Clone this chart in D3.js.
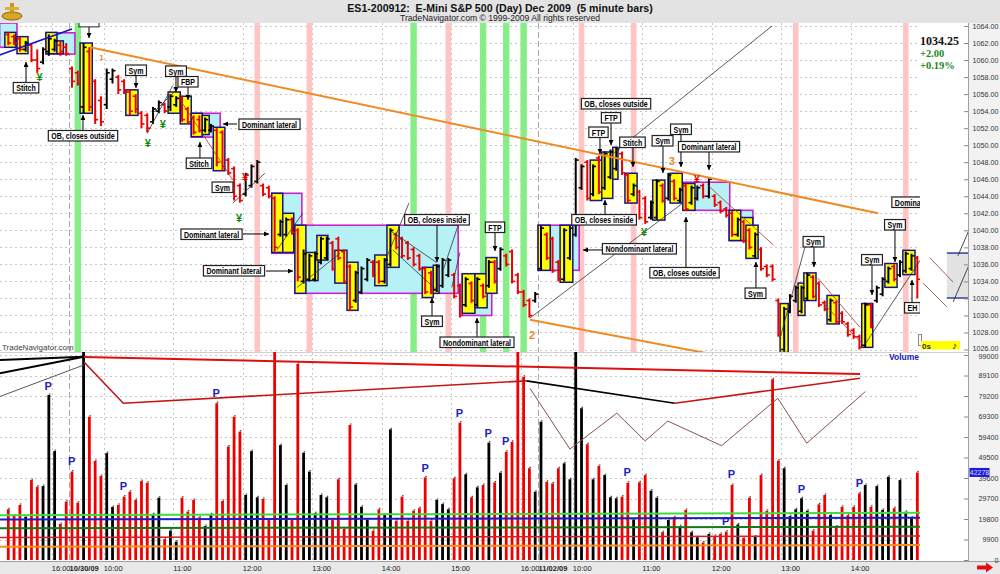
<!DOCTYPE html>
<html><head><meta charset="utf-8">
<script src="https://cdn.jsdelivr.net/npm/d3@7"></script>
<style>html,body{margin:0;padding:0;background:#fff;}svg{display:block;font-family:Arial,"Liberation Sans",sans-serif;}</style>
</head><body>
<script>
// ---------------- DATA ----------------
const barOpen = [1063,1062.75,1062.5,1061.25,1061.75,1060,1059.75,1061,1061.25,1061.75,1061.5,1059,1058.5,1054.5,1061,1057.5,1055.25,1054.75,1057.75,1058,1057.5,1056.25,1055.75,1053.75,1053.5,1052.75,1054,1054.75,1054.5,1054.75,1055.5,1054.25,1053.25,1053,1051.75,1051.75,1051.75,1051.5,1048.25,1047.25,1045.25,1044.25,1045.25,1045.75,1045.25,1045,1043.75,1039.5,1039.5,1041.25,1040,1034,1034.25,1034.25,1036.25,1036.75,1038.5,1039,1037.5,1035.75,1031.75,1032.75,1034.25,1036.25,1036.25,1034,1036,1039.5,1039,1038.5,1037.75,1037,1035.5,1035,1033,1033.5,1034.75,1034.75,1033.5,1031.25,1033.75,1031.25,1033.5,1033.5,1036.25,1035.5,1037,1037.5,1034.75,1032.75,1031.75,1031.75,1035.5,1039.5,1039,1036.25,1034.25,1036.75,1039.5,1045,1048,1044.25,1048.5,1045,1046.25,1047.25,1049,1046.5,1044.25,1044.5,1043.75,1041.5,1041.5,1045.25,1043.75,1045.75,1043.5,1045.25,1043.25,1043.75,1045.25,1044,1044,1043.25,1042.5,1042,1039.5,1041,1040,1037,1037.75,1035.75,1035.75,1031.75,1026,1030.5,1031.75,1030.5,1032,1034.5,1033.75,1031.5,1029.5,1031.5,1030.25,1029,1028.25,1027.5,1026.5,1031.25,1031.75,1032.5,1034,1035.75,1034.75,1035.25,1035.5,1036.75];
const barHigh = [1063.25,1063,1062.75,1062.25,1062,1061.25,1061.5,1063,1062.5,1062.25,1062,1059.25,1058.75,1062,1061.5,1057.75,1055.75,1059,1059,1058.25,1057.75,1056.5,1056,1054,1053.75,1054.5,1055.25,1055,1056,1055.75,1055.75,1054.5,1053.5,1053.5,1053.25,1052.5,1052,1051.75,1048.5,1047.5,1045.5,1046.75,1047.75,1048.25,1045.5,1045.25,1044,1041.25,1041.5,1041.5,1040.25,1037.75,1037.25,1037.5,1039.25,1039.25,1038.75,1039.25,1037.75,1036,1035.25,1035.75,1036.75,1036.5,1036.5,1036.75,1040.25,1039.75,1039.25,1038.75,1038,1037.25,1035.75,1035.25,1036,1036.75,1036.75,1035,1033.75,1034.5,1034,1034.5,1033.75,1036.5,1036.5,1038,1037.25,1037.75,1035,1033,1032,1032.75,1040.5,1039.75,1039.25,1036.5,1040.25,1040.5,1048.5,1047.75,1048.25,1047.75,1048.75,1049.25,1049.5,1049.75,1049.25,1046.75,1045.5,1044.75,1044,1043.5,1046,1045.5,1046.75,1046,1045,1045.5,1045.25,1045.25,1045.5,1046.25,1044.25,1043.5,1042.75,1042.25,1041.5,1041.25,1040.25,1039.75,1038,1036,1036,1032,1031,1032.5,1033.5,1033.5,1035,1034.75,1034,1031.75,1032,1031.75,1030.5,1029.25,1028.5,1027.75,1031.5,1031.5,1033.5,1034.5,1035.75,1036,1036.5,1037.5,1037.25,1037];
const barLow = [1061.75,1061.75,1061,1061,1059.75,1058.5,1059.5,1060.5,1061,1060.5,1060.5,1056.75,1057,1053.75,1054,1052.5,1052.25,1054.25,1057.25,1056,1056,1053.5,1053.75,1052,1051.5,1052.5,1053.75,1053.75,1054,1054.5,1052.75,1052.5,1051.25,1051.5,1051.5,1051.5,1047.5,1047,1046.5,1043.5,1043.25,1044,1045,1045.5,1044,1043.75,1037.5,1039.25,1039.25,1039.5,1034,1033.75,1034,1034,1036,1036.5,1035.25,1036.5,1033.75,1030.5,1031.5,1032.5,1034,1034.5,1033.75,1033.75,1035.75,1037.75,1036.75,1036.5,1035.75,1035.25,1032.5,1032.5,1032.75,1033.25,1034.5,1032,1029.75,1031,1031.5,1031,1032,1033.25,1033.75,1035.25,1035.75,1033.75,1032.5,1031,1029.75,1031.5,1035.25,1036.5,1035,1034,1034,1036.5,1039.25,1044.75,1043.5,1044,1044.25,1044.75,1046,1047,1046.5,1043.25,1044,1041.25,1040.75,1041.25,1041.25,1043.25,1043.5,1043.5,1043.25,1042.25,1043,1043.5,1043.75,1043.75,1042.75,1042,1041.5,1039.25,1039.25,1038.5,1037.75,1036.75,1035.25,1034.5,1034,1027.5,1025.75,1030.25,1031.5,1030.25,1031.75,1032,1031,1030.5,1029.25,1029,1029,1027.5,1027.25,1026,1026.25,1028.5,1031.5,1032.25,1033.75,1034,1034.5,1035,1035.25,1032];
const barClose = [1062,1062,1061.25,1062,1060,1059,1061.25,1062.5,1062.25,1061,1060.75,1057.5,1057.25,1061.5,1054.5,1053,1052.75,1058.5,1058.75,1056.5,1056.25,1054,1054.25,1052.5,1052,1054.25,1055,1054,1055.75,1055.5,1053,1052.75,1051.5,1051.75,1053,1052.25,1048,1047.5,1046.75,1044,1043.5,1046.5,1047.5,1048,1044.25,1044,1038,1041,1041.25,1039.75,1034.5,1037.25,1037,1037.25,1039,1039,1035.5,1036.75,1034,1031,1035,1035.5,1036.5,1034.75,1034,1036.5,1040,1038,1037,1036.75,1036,1035.5,1032.75,1032.75,1035.75,1036.5,1036.5,1032.25,1030,1034.25,1031.75,1034.25,1032.25,1036.25,1034,1037.75,1036,1034,1032.75,1031.25,1030,1032.5,1040.25,1036.75,1035.25,1034.25,1040,1040.25,1048.25,1047.5,1043.75,1047.5,1044.5,1049,1049.25,1049.5,1046.75,1043.5,1045.25,1041.5,1041,1043.25,1045.75,1043.5,1046.5,1043.75,1044.75,1042.5,1045,1045,1044,1046,1043,1042.25,1041.75,1039.5,1041.25,1038.75,1038,1039.5,1035.5,1034.75,1034.25,1027.75,1030.75,1032.25,1033.25,1033.25,1034.75,1032.25,1031.25,1030.75,1031.75,1029.25,1029.25,1027.75,1027.5,1026.25,1031.25,1028.75,1033.25,1034.25,1035.5,1034.25,1036.25,1037.25,1037,1034.25];
const volume = [24500,21300,26600,20900,38600,35400,35700,79700,52600,17400,28200,42700,27700,101000,69200,47800,40600,51600,25600,26600,30600,33000,29000,38100,37300,22100,30100,10100,14200,8900,30100,23400,29000,20600,16400,22100,75700,28500,54800,69200,62000,31400,52600,30300,29500,19300,101000,55500,36200,19300,94700,51800,42700,22600,31400,30300,19300,39000,15000,65200,36500,25700,19600,14100,24500,21700,63100,19000,30600,19000,23800,25000,39900,19000,29000,27000,24500,39500,66300,41400,30300,35100,36200,56700,37500,42200,52300,57100,101000,88500,44300,33000,66800,37800,37000,44300,46700,39000,101000,73300,55900,39000,45400,41000,30300,29800,30600,37300,19600,37500,41000,33500,30100,13500,19300,20600,16400,24200,13400,11000,8500,12600,11600,12600,13700,36200,17200,10800,30100,11300,41000,23800,87300,48000,44300,21200,24500,29800,23800,14200,26900,31400,21700,16100,25700,21700,25700,32200,36200,25700,35700,24200,40200,25000,38600,23300,20400,42278];

const priceTicks = [1026,1028,1030,1032,1034,1036,1038,1040,1042,1044,1046,1048,1050,1052,1054,1056,1058,1060,1062,1064];
const volTicks = [0,9900,19800,29700,39600,49500,59400,69300,79200,89100,99000];
const timeTickIdx = [7.5,16.5,28.5,40.5,52.5,64.5,76.5,88.5,97.5,109.5,121.5,133.5,145.5];
const timeTickLabels = ["16:00","10:00","11:00","12:00","13:00","14:00","15:00","16:00","10:00","11:00","12:00","13:00","14:00"];
const dayIdx = [10.5,91.5];
const dayLabels = ["10/30/09","11/02/09"];

const greenBands = [12,70,82,86,89];
const pinkBands = [43,52,76,99,108,136,155];

// [startIdx, endIdx, topPrice, bottomPrice]
const lateralBoxes = [[-1.5,1.5,1064.35,1061.5],[6.5,11.5,1063.2,1060.7],[31.6,36.6,1053.75,1050.95],[45.5,50.7,1044.35,1037.3],[49.5,77.7,1040.6,1032.6],[78.4,83.5,1034.9,1030],[91.5,98.6,1040.6,1035.3],[116.5,124.6,1045.65,1042.35],[124.5,128.6,1042.35,1038.8]];
const barBoxes = [[-0.6,1.3,1063.25,1061.5],[1.5,3.4,1062.75,1060.75],[6.5,8.4,1063.25,1060.75],[8.4,9.5,1062.25,1060.75],[12.4,14.5,1062,1053.75],[20.3,22.4,1056.5,1053.5],[27.6,29.7,1056.25,1053.75],[29.7,31.6,1055.75,1052.5],[31.6,33.5,1053.75,1051],[33.5,34.7,1053.5,1051.25],[35.4,37.4,1052.1,1047],[45.5,47.4,1044.35,1037.4],[47.4,49.3,1042,1037.4],[49.5,51.4,1040.6,1032.6],[51.4,53.5,1037.4,1034.1],[53.3,55.2,1039.4,1036.5],[56.4,58.5,1037.65,1033.8],[58.5,60.4,1036.25,1030.6],[63.3,65.4,1037.1,1033.5],[65.4,67.5,1040.6,1035.65],[71.5,73.4,1035.65,1032.1],[73.4,74.4,1035.9,1032.6],[78.4,80.6,1034.9,1030.25],[80.6,82.7,1034.9,1030.9],[82.5,84.4,1036.8,1032.6],[91.5,93.6,1040.6,1035.3],[95.3,97.5,1040.6,1033.9],[100.5,102.5,1048.25,1043.5],[102.5,104.4,1049.2,1043.75],[104.4,105.3,1049.75,1046],[106.5,108.6,1046.7,1043.2],[111.3,113.4,1045.9,1041.2],[114.3,116.4,1046.7,1043.2],[116.5,118.6,1045.5,1042.35],[124.5,126.5,1042.35,1038.8],[126.5,128.6,1041.5,1038.8],[127.4,129.5,1040.6,1036.7],[133.3,134.7,1031.4,1025.65],[136.4,137.6,1033.8,1030],[137.4,139.5,1035,1031.75],[141.4,143.5,1032.35,1029],[147.4,149.3,1031.4,1026.25],[151.4,153.5,1036.1,1033.3],[154.5,156.6,1037.65,1034.8]];

const labelText = ["Stitch","OB, closes outside","Sym","Sym","FBP","Dominant lateral","Stitch","Sym","Dominant lateral","Dominant lateral","OB, closes inside","FTP","Sym","Nondominant lateral","OB, closes inside","Nondominant lateral","OB, closes outside","FTP","FTP","Stitch","Sym","Sym","Dominant lateral","OB, closes outside","Sym","Sym","Sym","Sym","EH"];
const labelIdx = [3.06,12.9,22.06,28.96,31.04,45.11,32.94,37.0,35.1,38.98,74.04,84.06,73.18,80.95,102.9,109.0,104.96,104.1,101.93,107.8,113.0,116.18,121.02,116.79,129.05,139.07,149.17,153.14,156.16];
const labelPrice = [1056.72,1051.08,1058.77,1058.66,1057.42,1052.43,1047.85,1045.03,1039.51,1035.22,1041.21,1040.33,1029.29,1026.82,1041.21,1037.8,1054.84,1053.19,1051.49,1050.31,1050.49,1051.84,1049.79,1034.99,1032.58,1038.63,1036.51,1040.62,1030.87];
// arrows [fromIdx, fromPrice, toIdx, toPrice]
const arrows = [[3.06,1057.3,3.06,1059.77],[12.9,1051.55,12.9,1053.55],[22.06,1058.24,22.06,1056.72],[28.96,1058.13,28.96,1056.25],[31.04,1056.83,31.04,1055.31],[39.5,1052.49,37.08,1052.49],[33.1,1048.38,33.1,1050.37],[40.54,1039.57,45.03,1039.57],[44.51,1035.22,49.17,1035.22],[74.04,1040.62,74.04,1036.28],[84.06,1039.8,84.06,1037.57],[73.18,1029.82,73.18,1032.05],[80.95,1027.35,80.95,1029.7],[103.06,1041.68,103.06,1043.56],[102.54,1037.69,99.26,1037.69],[104.1,1052.6,104.1,1050.02],[102.19,1050.96,102.19,1048.96],[107.89,1049.79,107.89,1047.44],[113.07,1049.9,113.07,1046.73],[116.18,1051.2,116.18,1047.44],[121.02,1049.2,121.02,1047.08],[117.04,1035.57,117.04,1041.56],[129.13,1033.22,129.13,1036.28],[139.15,1038.04,139.15,1035.69],[149.17,1035.92,149.17,1032.4],[153.14,1040.04,153.14,1036.28],[156.08,1031.46,156.08,1034.16],[13.94,1063.88,13.94,1062.59]];

const yenGreen = [[5.4,1058.0],[24.1,1050.25],[26.7,1052.5],[39.85,1041.4],[109.8,1039.75]];
const yenRed = [[40.9,1046.25],[118.9,1046.0]];
const waveLabels = ["1","2","3"];
const wavePos = [[16.1,1060.5],[90.45,1027.75],[114.6,1048.2]];

// trend / symmetry lines [i0,p0,i1,p1]
const orangeLines = [[14.1,1061.5,150.2,1042.0],[90.1,1029.5,160,1020.5]];
const blueLine = [-1.5,1060.6,11,1063.65];
const thinBlack = [[90.1,1029.7,116.5,1043.2],[104.3,1048.95,131.9,1064.0],[133.3,1027.35,137.6,1038.05],[148.1,1026.75,158,1037.0],[24,1051.4,28.4,1057],[25,1053.8,29.3,1056.7],[38.8,1043.2,44.3,1046.7],[46.4,1037.7,50.9,1042.05],[49.9,1033.3,57.3,1037.3],[65.9,1040,74,1036.2],[66.4,1037.7,74.6,1032.6],[65.4,1036.9,69.2,1043.2],[75.1,1035.3,77.7,1040.6],[76.6,1033.3,78,1037.4]];
const thinRed = [[120.8,1045.3,132.1,1038.3],[139.8,1034.4,147.1,1028.6],[140.7,1031.45,147.4,1026.75],[29.7,1055.3,38.8,1045.9]];
const projRed = [[159.2,1036.75,163.2,1033.9],[158,1033.8,162.1,1031.0]];
const projBlack = [[164,1037,166.1,1040.3],[163.2,1031.6,166.1,1036.2]];
const projBox = [162.1,166.2,1037.33,1032.05];

// volume pane indicators
const maLineColors = ["#3fdc3f","#1c1cc8","#157a15","#d42020","#ff8c1a"];
const maLineVals = [[21600,22800],[19600,20400],[15300,16100],[10900,11600],[6400,7200]];
const upperRed = [[13.07,98000],[147.1,89800]];
const lowerRedA = [[13.07,95600],[19.86,75700],[89.5,86500]];
const lowerBlack = [[89.5,86500],[115.1,75700]];
const lowerRedB = [[115.1,75700],[147.1,87800]];
const leftBlack1 = [[-1.5,96600],[13.07,98200]];
const leftBlack2 = [[-1.5,90200],[13.07,98200]];
const leftThin = [[-1.5,78900],[13.07,94200]];
const zigzag = [[90.1,82900],[97.0,53600],[105.1,70900],[110.0,57500],[113.9,67100],[123.2,55200],[132.9,78100],[137.9,56400],[148.0,81300]];
const pIdx = [6.9,10.95,19.9,35.9,72.0,77.9,82.9,85.9,106.9,124.9,123.9,137.0,147.0];
const pVol = [84200,47800,35700,80500,44600,71100,61500,57500,42400,41400,18800,34300,37000];

// ---------------- LAYOUT ----------------
const W = 1000, H = 574;
const PT = 23, PB = 352, VB = 561, PR = 920, AX = 968;
const x = d3.scaleLinear().domain([0,157]).range([8.3,917.33]);
const yP = d3.scaleLinear().domain([1026,1064]).range([349.5,26]);
const yV = d3.scaleLinear().domain([0,99000]).range([560,355]);
const RED = "#ee0000";

const svg = d3.select("body").append("svg").attr("width",W).attr("height",H);
const defs = svg.append("defs");
defs.append("clipPath").attr("id","cp").append("rect").attr("x",0).attr("y",PT).attr("width",PR).attr("height",PB-PT);
defs.append("clipPath").attr("id","cv").append("rect").attr("x",0).attr("y",PB).attr("width",PR).attr("height",VB-PB);
defs.append("clipPath").attr("id","cr").append("rect").attr("x",PR).attr("y",PT).attr("width",AX-PR).attr("height",PB-PT);
defs.append("marker").attr("id","ah").attr("viewBox","0 0 10 10").attr("refX",10).attr("refY",5)
  .attr("markerWidth",5).attr("markerHeight",5).attr("orient","auto")
  .append("path").attr("d","M0,0L10,5L0,10z").attr("fill","#000");

svg.append("rect").attr("width",W).attr("height",H).attr("fill","#fff");
svg.append("rect").attr("x",0).attr("y",0).attr("width",W).attr("height",PT).attr("fill","#e3e3e3");
svg.append("rect").attr("x",AX).attr("y",PT).attr("width",W-AX).attr("height",VB-PT).attr("fill","#f2f2f2");
svg.append("rect").attr("x",0).attr("y",VB).attr("width",W).attr("height",H-VB).attr("fill","#e8e8e8");
svg.append("line").attr("x1",0).attr("x2",W).attr("y1",VB+0.5).attr("y2",VB+0.5).attr("stroke","#a0a0a0");
svg.append("line").attr("x1",AX+0.5).attr("x2",AX+0.5).attr("y1",PT).attr("y2",VB).attr("stroke","#a0a0a0");

// header
svg.append("text").attr("x",500).attr("y",11.5).attr("text-anchor","middle").style("white-space","pre")
  .attr("font-size",10.6).attr("font-weight","bold").attr("fill","#111")
  .text("ES1-200912:  E-Mini S&P 500 (Day) Dec 2009  (5 minute bars)");
svg.append("text").attr("x",500).attr("y",21).attr("text-anchor","middle")
  .attr("font-size",8.6).attr("fill","#222").text("TradeNavigator.com \u00A9 1999-2009 All rights reserved");
const logo = svg.append("g").attr("transform","translate(12,12)");
logo.append("ellipse").attr("rx",10).attr("ry",4).attr("cy",4).attr("fill","#d8a628").attr("stroke","#8a6410");
logo.append("rect").attr("x",-2).attr("y",-9).attr("width",4).attr("height",11).attr("fill","#c89620");
logo.append("rect").attr("x",-7).attr("y",-5).attr("width",14).attr("height",3).attr("fill","#e0b030");

// gridlines
const grid = svg.append("g");
grid.selectAll(".hp").data(priceTicks).join("line").attr("x1",0).attr("x2",PR)
  .attr("y1",d=>Math.round(yP(d))+0.5).attr("y2",d=>Math.round(yP(d))+0.5)
  .attr("stroke","#c8c8c8").attr("stroke-dasharray","2,3");
grid.selectAll(".hv").data(volTicks.slice(1)).join("line").attr("x1",0).attr("x2",PR)
  .attr("y1",d=>Math.round(yV(d))+0.5).attr("y2",d=>Math.round(yV(d))+0.5)
  .attr("stroke","#c8c8c8").attr("stroke-dasharray","2,3");
grid.selectAll(".vt").data(timeTickIdx).join("line").attr("x1",d=>Math.round(x(d))+0.5).attr("x2",d=>Math.round(x(d))+0.5)
  .attr("y1",PT).attr("y2",VB).attr("stroke","#c8c8c8").attr("stroke-dasharray","2,3");
grid.selectAll(".vd").data(dayIdx).join("line").attr("x1",d=>Math.round(x(d))+0.5).attr("x2",d=>Math.round(x(d))+0.5)
  .attr("y1",PT).attr("y2",VB).attr("stroke","#a8a8a8").attr("stroke-dasharray","6,3");
svg.append("line").attr("x1",0).attr("x2",AX).attr("y1",PB+0.5).attr("y2",PB+0.5).attr("stroke","#d0d0d0");

// ---------------- PRICE PANE ----------------
const gp = svg.append("g").attr("clip-path","url(#cp)");
gp.selectAll(".gb").data(greenBands).join("rect").attr("x",d=>x(d)-3.2).attr("width",6.4)
  .attr("y",PT).attr("height",PB-PT).attr("fill","#86ee86");
gp.selectAll(".pb").data(pinkBands).join("rect").attr("x",d=>x(d)-2.8).attr("width",5.6)
  .attr("y",PT).attr("height",PB-PT).attr("fill","#ffc4c4");

gp.selectAll(".lb").data(lateralBoxes).join("rect")
  .attr("x",d=>x(d[0])).attr("width",d=>x(d[1])-x(d[0]))
  .attr("y",d=>yP(d[2])).attr("height",d=>yP(d[3])-yP(d[2]))
  .attr("fill","#b6f1f6").attr("stroke","#cc22cc").attr("stroke-width",1.6);
gp.selectAll(".bb").data(barBoxes).join("rect")
  .attr("x",d=>x(d[0])).attr("width",d=>x(d[1])-x(d[0]))
  .attr("y",d=>yP(d[2])).attr("height",d=>yP(d[3])-yP(d[2]))
  .attr("fill","#ffff00").attr("stroke","#14148a").attr("stroke-width",1.5);

const bars = gp.selectAll(".bar").data(d3.range(barOpen.length)).join("g")
  .attr("stroke",i=>barClose[i]<barOpen[i]?RED:"#000");
bars.append("line").attr("x1",i=>x(i)).attr("x2",i=>x(i)).attr("y1",i=>yP(barHigh[i])).attr("y2",i=>yP(barLow[i])).attr("stroke-width",2);
bars.append("line").attr("x1",i=>x(i)-3).attr("x2",i=>x(i)).attr("y1",i=>yP(barOpen[i])).attr("y2",i=>yP(barOpen[i])).attr("stroke-width",1.6);
bars.append("line").attr("x1",i=>x(i)).attr("x2",i=>x(i)+3).attr("y1",i=>yP(barClose[i])).attr("y2",i=>yP(barClose[i])).attr("stroke-width",1.6);

function segs(g, data, color, w){
  g.selectAll(null).data(data).join("line")
    .attr("x1",d=>x(d[0])).attr("y1",d=>yP(d[1])).attr("x2",d=>x(d[2])).attr("y2",d=>yP(d[3]))
    .attr("stroke",color).attr("stroke-width",w);
}
segs(gp, thinBlack, "#333", 0.8);
segs(gp, thinRed, "#b03030", 0.8);
segs(gp, orangeLines, "#ef8a24", 2);
segs(gp, [blueLine], "#1414c0", 1.6);

gp.selectAll(".ar").data(arrows).join("line")
  .attr("x1",d=>x(d[0])).attr("y1",d=>yP(d[1])).attr("x2",d=>x(d[2])).attr("y2",d=>yP(d[3]))
  .attr("stroke","#000").attr("stroke-width",1).attr("marker-end","url(#ah)");

const LF = "Arial,'Liberation Sans',sans-serif";
function labelText_(g, txt, anchor, dx){
  const t = g.append("text").attr("text-anchor",anchor).attr("x",dx).attr("y",3.1)
    .attr("font-family",LF).attr("font-size",8.4).attr("font-weight","bold").attr("fill","#000").text(txt);
  const len = t.node().getComputedTextLength()*0.84;
  t.attr("textLength",len).attr("lengthAdjust","spacingAndGlyphs");
  return len;
}
const labs = gp.selectAll(".lab").data(labelText.map((t,i)=>i)).join("g")
  .attr("transform",i=>`translate(${x(labelIdx[i])},${yP(labelPrice[i])})`);
labs.each(function(i){
  const g = d3.select(this);
  const r = g.append("rect");
  const w = labelText_(g, labelText[i], "middle", 0)+6;
  r.attr("x",-w/2).attr("y",-5.5).attr("width",w).attr("height",10.5).attr("fill","#fff").attr("stroke","#222").attr("stroke-width",1.2);
});
gp.append("rect").attr("x",x(13.94)-10).attr("y",yP(1065.3)).attr("width",20).attr("height",yP(1064.6)-yP(1065.3)+6)
  .attr("fill","#fff").attr("stroke","#222");
const cutLab = gp.append("g").attr("transform",`translate(${x(152.6)},${yP(1043.27)})`);
const cutR = cutLab.append("rect");
const cw = labelText_(cutLab, "Dominant lateral", "start", 3)+6;
cutR.attr("x",0).attr("y",-5.5).attr("width",cw).attr("height",10.5).attr("fill","#fff").attr("stroke","#222").attr("stroke-width",1.2);

gp.selectAll(".yg").data(yenGreen).join("text").attr("x",d=>x(d[0])).attr("y",d=>yP(d[1])+4)
  .attr("text-anchor","middle").attr("font-size",11).attr("font-weight","bold").attr("fill","#118a11").text("\u00A5");
gp.selectAll(".yr").data(yenRed).join("text").attr("x",d=>x(d[0])).attr("y",d=>yP(d[1])+4)
  .attr("text-anchor","middle").attr("font-size",11).attr("font-weight","bold").attr("fill",RED).text("\u00A5");
gp.selectAll(".wv").data(waveLabels).join("text").attr("x",(d,i)=>x(wavePos[i][0])).attr("y",(d,i)=>yP(wavePos[i][1])+4)
  .attr("text-anchor","middle").attr("font-size",(d,i)=>i===0?8:11).attr("font-weight","bold").attr("fill","#e8892a").text(d=>d);

svg.append("text").attr("x",2).attr("y",350).attr("font-size",8).attr("fill","#444").text("TradeNavigator.com");

// right projection area
const gr = svg.append("g").attr("clip-path","url(#cr)");
gr.append("rect").attr("x",x(projBox[0])).attr("width",x(projBox[1])-x(projBox[0]))
  .attr("y",yP(projBox[2])).attr("height",yP(projBox[3])-yP(projBox[2])).attr("fill","#e2e2e2");
gr.selectAll(".pbl").data([projBox[2],projBox[3]]).join("line").attr("x1",x(projBox[0])).attr("x2",x(projBox[1]))
  .attr("y1",d=>yP(d)).attr("y2",d=>yP(d)).attr("stroke","#3040a0").attr("stroke-width",1.5);
segs(gr, projRed, "#a05050", 0.9);
segs(gr, projBlack, "#333", 0.9);

const SERIF = "'Liberation Serif','Times New Roman',serif";
svg.append("text").attr("x",920).attr("y",45).attr("font-family",SERIF)
  .attr("font-size",12).attr("font-weight","bold").attr("fill","#111").text(d3.format(".2f")(barClose[barClose.length-1]));
svg.append("text").attr("x",920).attr("y",57).attr("font-family",SERIF)
  .attr("font-size",10.5).attr("font-weight","bold").attr("fill","#1a8a1a").text("+2.00");
svg.append("text").attr("x",920).attr("y",68.5).attr("font-family",SERIF)
  .attr("font-size",10.5).attr("font-weight","bold").attr("fill","#1a8a1a").text("+0.19%");

// ---------------- VOLUME PANE ----------------
const gv = svg.append("g").attr("clip-path","url(#cv)");
gv.selectAll(".vb").data(volume).join("rect")
  .attr("x",(d,i)=>x(i)-1.4).attr("width",2.8)
  .attr("y",d=>yV(d)).attr("height",d=>yV(0)-yV(d))
  .attr("fill",(d,i)=>barClose[i]<barOpen[i]?RED:"#000");
gv.selectAll(".vm").data(volume).join("rect")
  .attr("x",(d,i)=>x(i)).attr("width",1.5).attr("y",d=>yV(d)-1.5).attr("height",1.2).attr("fill","#444");

gv.selectAll(".ma").data(maLineVals).join("line")
  .attr("x1",x(-1.5)).attr("x2",x(157.5)).attr("y1",d=>yV(d[0])).attr("y2",d=>yV(d[1]))
  .attr("stroke",(d,i)=>maLineColors[i]).attr("stroke-width",(d,i)=>i===3?1.5:2);
const vline = d3.line().x(d=>x(d[0])).y(d=>yV(d[1]));
function vpath(data,color,w){ gv.append("path").attr("d",vline(data)).attr("fill","none").attr("stroke",color).attr("stroke-width",w); }
vpath(leftThin,"#555",1);
vpath(zigzag,"#8b5050",1);
vpath(leftBlack1,"#000",2);
vpath(leftBlack2,"#000",2);
vpath(upperRed,"#dd1010",2);
vpath(lowerRedA,"#c81414",1.6);
vpath(lowerBlack,"#000",1.6);
vpath(lowerRedB,"#c81414",1.6);

gv.selectAll(".pl").data(pIdx).join("text").attr("x",d=>x(d)).attr("y",(d,i)=>yV(pVol[i])+4)
  .attr("text-anchor","middle").attr("font-size",11).attr("font-weight","bold").attr("fill","#2020c0").text("P");

svg.append("text").attr("x",889).attr("y",360).attr("font-size",8.5).attr("font-weight","bold").attr("fill","#2020b0").text("Volume");
svg.append("rect").attr("x",918.5).attr("y",334.5).attr("width",3).attr("height",11).attr("fill","#fff").attr("stroke","#888");
svg.append("rect").attr("x",921).attr("y",341).attr("width",39).attr("height",8.5).attr("fill","#ffff00");
svg.append("text").attr("x",922).attr("y",348.5).attr("font-size",8).attr("font-weight","bold").attr("fill","#333").text("0s");
svg.append("text").attr("x",952).attr("y",349).attr("font-size",10).attr("fill","#222").text("\u266A");

// ---------------- AXES ----------------
function styleAxis(a){
  a.select(".domain").remove();
  a.selectAll("line").attr("stroke","#888");
  a.selectAll("text").attr("font-size",7.2).attr("fill","#333").attr("text-anchor","end").attr("x",30.5)
    .attr("font-family","Arial,'Liberation Sans',sans-serif");
}
const axP = svg.append("g").attr("transform",`translate(${AX},0)`)
  .call(d3.axisRight(yP).tickValues(priceTicks).tickFormat(d3.format(".2f")).tickSize(-4).tickPadding(5));
const axV = svg.append("g").attr("transform",`translate(${AX},0)`)
  .call(d3.axisRight(yV).tickValues(volTicks).tickFormat(d3.format("d")).tickSize(-4).tickPadding(5));
styleAxis(axP); styleAxis(axV);
axP.selectAll(".tick").filter(d=>d===priceTicks[0]).select("text").attr("dy","0.1em");
axV.selectAll(".tick").filter(d=>d===volTicks[volTicks.length-1]).select("text").attr("dy","0.55em");

const lastV = volume[volume.length-1];
svg.append("rect").attr("x",969.5).attr("y",yV(lastV)-4.5).attr("width",20).attr("height",9).attr("fill","#1a1ae0");
svg.append("text").attr("x",979.5).attr("y",yV(lastV)+2.6).attr("text-anchor","middle").attr("font-size",7).attr("fill","#dde").text(String(lastV));

// time axis
svg.selectAll(".tl").data(timeTickIdx).join("text").attr("x",d=>x(d)).attr("y",570.5)
  .attr("font-size",7.5).attr("fill","#222").text((d,i)=>timeTickLabels[i]);
svg.selectAll(".dl").data(dayIdx).join("text").attr("x",d=>x(d)+0.5).attr("y",570.5)
  .attr("font-size",7.5).attr("font-weight","bold").attr("fill","#222").text((d,i)=>dayLabels[i]);
svg.append("path").attr("d","M977,565.5h9v-3l7,5l-7,5v-3h-9z").attr("fill","#e01010");
</script>
</body></html>
